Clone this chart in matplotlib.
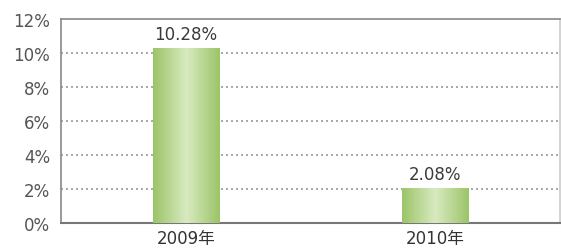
import matplotlib
matplotlib.use("Agg")
import matplotlib.pyplot as plt
import numpy as np
from matplotlib.colors import LinearSegmentedColormap

plt.rcParams['font.family'] = ['DejaVu Sans', 'Noto Sans CJK SC']

categories = ["2009年", "2010年"]
values = [10.28, 2.08]
value_labels = ["10.28%", "2.08%"]
yticks = [0, 2, 4, 6, 8, 10, 12]
ytick_labels = ["0%", "2%", "4%", "6%", "8%", "10%", "12%"]

fig = plt.figure(figsize=(5.61, 2.51), dpi=100)
ax = fig.add_axes([61/561, 1 - 224/251, 499/561, 204/251])

x = np.arange(len(categories))
bars = ax.bar(x, values, width=0.265, color="#b5d68a", zorder=3)

cmap = LinearSegmentedColormap.from_list("g", ["#9cc468", "#d8eac0", "#9cc468"])
grad = np.linspace(0, 1, 256).reshape(1, -1)
for b in bars:
    bx, by = b.get_x(), b.get_y()
    w, h = b.get_width(), b.get_height()
    im = ax.imshow(grad, cmap=cmap, aspect="auto", extent=[bx, bx + w, by, by + h], zorder=4)
    im.set_clip_path(b)
    b.set_facecolor("none")

for xi, v, lab in zip(x, values, value_labels):
    ax.text(xi, v + 0.3, lab, ha="center", va="bottom", fontsize=12, color="#3a3a3a", zorder=5)

ax.set_xlim(-0.5, 1.5)
ax.set_ylim(0, 12)
ax.set_yticks(yticks)
ax.set_yticklabels(ytick_labels, fontsize=12, color="#555555")
ax.set_xticks(x)
ax.set_xticklabels(categories, fontsize=12, color="#333333")
ax.tick_params(axis="both", length=0)
ax.tick_params(axis="x", pad=4)
ax.tick_params(axis="y", pad=8)

for yv in yticks[1:-1]:
    ax.axhline(yv, color="#9a9a9a", linestyle=(0, (1.2, 1.8)), linewidth=1.2, zorder=1)

for s in ax.spines.values():
    s.set_color("#888888")
    s.set_linewidth(1.2)
ax.spines["right"].set_color("#cccccc")
ax.spines["bottom"].set_color("#777777")
ax.spines["bottom"].set_linewidth(1.5)

fig.savefig("out.png", dpi=100, facecolor="white")
